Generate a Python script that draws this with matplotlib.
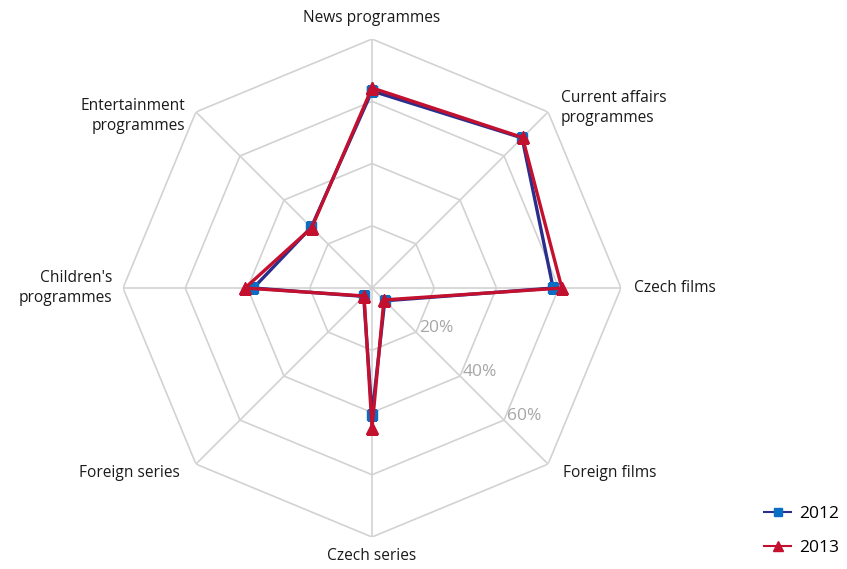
import numpy as np
import matplotlib
matplotlib.use("Agg")
import matplotlib.pyplot as plt
from matplotlib.lines import Line2D

categories = ["News programmes", "Current affairs\nprogrammes", "Czech films", "Foreign films",
              "Czech series", "Foreign series", "Children's\nprogrammes", "Entertainment\nprogrammes"]
values_2012 = [63.3, 68.2, 58.2, 5.8, 40.8, 3.8, 38.1, 27.6]
values_2013 = [64.3, 68.4, 61.0, 5.4, 45.0, 3.6, 40.8, 27.4]
ring_values = [20, 40, 60, 80]
ring_labels = ["20%", "40%", "60%"]

plt.rcParams['font.family'] = ['Open Sans', 'DejaVu Sans']

fig = plt.figure(figsize=(8.47, 5.69), dpi=100)
ax = fig.add_axes([0.1452, 0.0562, 0.588, 0.8752], projection="polar")
ax.set_theta_zero_location("N")
ax.set_theta_direction(-1)
ax.set_ylim(0, 80)
ax.grid(False)
ax.set_xticks([])
ax.set_yticks([])
ax.spines["polar"].set_visible(False)
ax.patch.set_visible(False)

n = len(categories)
theta = np.arange(n) * 2 * np.pi / n
theta_closed = np.append(theta, theta[0])

grid_col = "#d2d2d2"
for rv in ring_values:
    ax.plot(theta_closed, [rv] * (n + 1), color=grid_col, lw=1.2, zorder=1)
for t in theta:
    ax.plot([t, t], [0, ring_values[-1]], color=grid_col, lw=1.2, zorder=1)

c12_line, c12_mark = "#2b2f8c", "#0a6fc4"
c13 = "#c4102f"
ax.plot(theta_closed, values_2012 + values_2012[:1], color=c12_line, lw=2.4,
        marker="s", ms=7, mfc=c12_mark, mec=c12_mark, zorder=3)
ax.plot(theta_closed, values_2013 + values_2013[:1], color=c13, lw=2.4,
        marker="^", ms=8, mfc=c13, mec=c13, zorder=4)

# ring labels along the Foreign films spoke
for rv, lab in zip(ring_values, ring_labels):
    ax.annotate(lab, (theta[3], rv), xytext=(3, 4), textcoords="offset pixels",
                ha="left", va="center", fontsize=12.5, color="#a6a6a6")

# category labels
offsets = [(0, 21, "center", "center"), (13, 4, "left", "center"), (13, 0, "left", "center"),
           (15, -9, "left", "center"), (0, -19, "center", "center"), (-16, -9, "right", "center"),
           (-11, 0, "right", "center"), (-11, -4, "right", "center")]
for t, lab, (dx, dy, ha, va) in zip(theta, categories, offsets):
    ax.annotate(lab, (t, ring_values[-1]), xytext=(dx, dy), textcoords="offset pixels",
                ha=ha, va=va, multialignment=ha,
                fontsize=11.2, color="#1a1a1a", linespacing=1.3)

handles = [Line2D([], [], color=c12_line, lw=1.5, marker="s", ms=6, mfc=c12_mark, mec=c12_mark),
           Line2D([], [], color=c13, lw=1.5, marker="^", ms=7, mfc=c13, mec=c13)]
fig.legend(handles, ["2012", "2013"], loc="center left",
           bbox_to_anchor=(748 / 847, 1 - 531 / 569), frameon=False,
           fontsize=12.5, handlelength=1.6, labelspacing=1.05, handletextpad=0.45)

fig.savefig("out.png", dpi=100)
